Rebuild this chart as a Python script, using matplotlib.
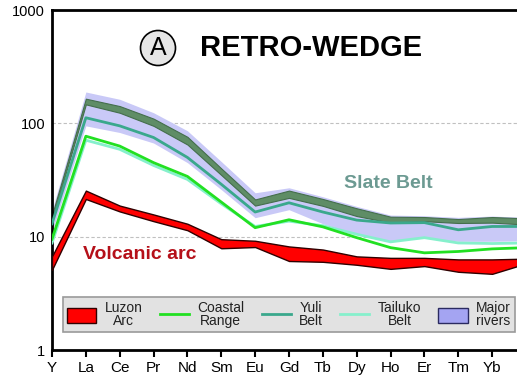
import matplotlib
matplotlib.use('Agg')
import matplotlib.pyplot as plt
from matplotlib.patches import Patch
from matplotlib.lines import Line2D

plt.rcParams['font.family'] = ['Liberation Sans', 'DejaVu Sans']
plt.rcParams['axes.linewidth'] = 2

# chondrite-normalised REE patterns
elements = ['Y', 'La', 'Ce', 'Pr', 'Nd', 'Sm', 'Eu', 'Gd', 'Tb', 'Dy', 'Ho', 'Er', 'Tm', 'Yb', 'Lu']
rivers_hi = [17, 189, 163, 124, 86, 46, 24.4, 27, 22.5, 18.5, 15.5, 15.3, 14.8, 15.2, 14.8]
rivers_lo = [11, 95, 83, 67, 45, 26, 14.7, 17.3, 13.0, 10.5, 9.2, 9.7, 9.1, 9.1, 9.2]
slate_hi = [15.5, 165, 142, 110, 76, 40, 21.3, 25.5, 21.5, 17.8, 15.0, 14.9, 14.3, 14.9, 14.5]
slate_lo = [14, 147, 124, 95, 65, 35, 18.8, 22, 18.7, 15.2, 13.3, 13.7, 13.2, 13.3, 12.8]
yuli = [13, 112, 95, 75, 50, 29, 16.5, 19.9, 16.5, 14, 13.2, 13.3, 11.5, 12.3, 12.3]
tailuko = [8.8, 71, 59, 42.5, 32, 19.5, 12.3, 13.7, 12.5, 10.5, 9.0, 9.8, 8.8, 8.7, 8.8]
coastal = [9.5, 77, 63, 45, 34, 20.2, 12.0, 14.1, 12.2, 9.8, 8.0, 7.2, 7.4, 7.8, 8.0]
luzon_hi = [6.7, 25.5, 18.8, 15.7, 13.0, 9.5, 9.2, 8.2, 7.7, 6.7, 6.5, 6.5, 6.3, 6.3, 6.4]
luzon_lo = [5.1, 21.5, 16.7, 13.7, 11.4, 7.9, 8.1, 6.1, 6.0, 5.65, 5.2, 5.5, 4.9, 4.7, 5.8]
ylabels = ['1', '10', '100', '1000']

x = list(range(len(elements)))

fig = plt.figure(figsize=(5.17, 3.77), dpi=100)
W, H = 517, 377
ax = fig.add_axes([52 / W, 27 / H, 474 / W, 340 / H])

ax.set_yscale('log')
ax.set_ylim(1, 1000)
ax.set_xlim(0, 14)

# reference lines at 10 and 100
for v in [10, 100]:
    ax.axhline(v, color='#c0c0c0', lw=0.8, ls=(0, (3, 2)), zorder=0)

# major rivers envelope
ax.fill_between(x, rivers_lo, rivers_hi, color='#c9c9f7', lw=0, zorder=1)
# slate belt band
ax.fill_between(x, slate_lo, slate_hi, facecolor='#5f8d66', edgecolor='#446e4c', lw=0.8, zorder=2)
# individual belts
ax.plot(x, yuli, color='#3aa88c', lw=2, zorder=3)
ax.plot(x, tailuko, color='#86f0cc', lw=2, zorder=3)
ax.plot(x, coastal, color='#22e022', lw=2, zorder=4)
# luzon arc envelope
ax.fill_between(x, luzon_lo, luzon_hi, facecolor='#ff0000', edgecolor='#300000', lw=1, zorder=5)

ax.set_xticks(x)
ax.set_xticklabels(elements, fontsize=11)
ax.tick_params(axis='x', length=5, width=1.5, pad=3)
ax.set_yticks([1, 10, 100, 1000])
ax.set_yticklabels(ylabels, fontsize=10.5)
ax.yaxis.set_minor_locator(plt.NullLocator())
ax.tick_params(axis='y', length=0, pad=5)

ax.text(0.185, 0.28, 'Volcanic arc', transform=ax.transAxes, fontsize=14,
        fontweight='bold', color='#b51019', ha='center', va='center')
ax.text(0.71, 0.49, 'Slate Belt', transform=ax.transAxes, fontsize=14,
        fontweight='bold', color='#6c9a92', ha='center', va='center')

# panel label and title
fig.text(158 / W, 1 - 48 / H, 'A', fontsize=18, ha='center', va='center',
         bbox=dict(boxstyle='circle,pad=0.22', fc='#e6e6e6', ec='black', lw=1.2))
fig.text(200 / W, 1 - 48 / H, 'RETRO-WEDGE', fontsize=21, fontweight='bold',
         ha='left', va='center')

handles = [
    Patch(facecolor='#ff0000', edgecolor='#300000', lw=1),
    Line2D([], [], color='#22e022', lw=2),
    Line2D([], [], color='#3aa88c', lw=2),
    Line2D([], [], color='#86f0cc', lw=2),
    Patch(facecolor='#a4a4f2', edgecolor='#2a2a60', lw=1),
]
names = ['Luzon\nArc', 'Coastal\nRange', 'Yuli\nBelt', 'Tailuko\nBelt', 'Major\nrivers']
leg = ax.legend(handles, names, ncol=5, loc='lower left', mode='expand',
                bbox_to_anchor=(11 / 474, 18 / 340, 452 / 474, 34 / 340),
                borderaxespad=0, fontsize=10, handlelength=2.1, handleheight=1.2,
                handletextpad=0.6, columnspacing=1.0, borderpad=0.3,
                fancybox=False, framealpha=1)
leg.get_frame().set_facecolor('#e2e2e2')
leg.get_frame().set_edgecolor('#9a9a9a')
leg.get_frame().set_linewidth(1.2)
for t in leg.get_texts():
    t.set_multialignment('center')
    t.set_linespacing(0.85)
    t.set_color('#222222')

fig.savefig('out.png', dpi=100)
